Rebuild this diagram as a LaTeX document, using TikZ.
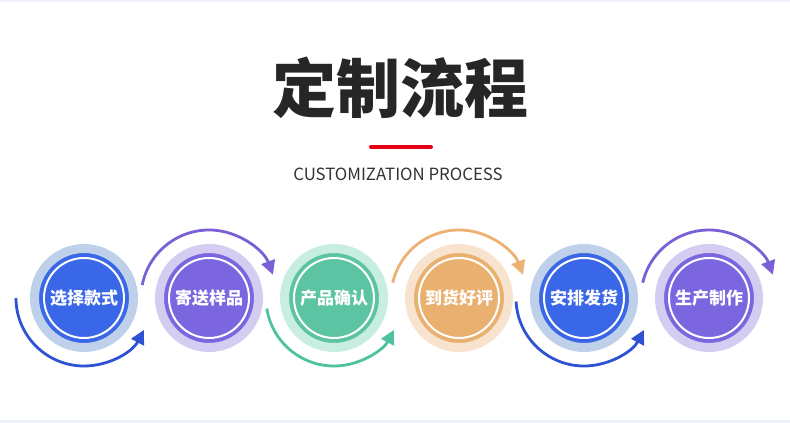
\documentclass[tikz,border=0pt]{standalone}
\usepackage{fontspec}
\newfontfamily\cjk{Noto Sans CJK SC}
\usetikzlibrary{arrows.meta}
\definecolor{band}{HTML}{EEF2F8}
\definecolor{titlec}{HTML}{262626}
\definecolor{redbar}{HTML}{E60012}
\definecolor{subc}{HTML}{333333}
\definecolor{blueIn}{HTML}{3A66E8}
\definecolor{blueOut}{HTML}{BED0EA}
\definecolor{blueArc}{HTML}{2F52D2}
\definecolor{purIn}{HTML}{7B66E0}
\definecolor{purOut}{HTML}{D5CCF2}
\definecolor{purArc}{HTML}{7A60D6}
\definecolor{grnIn}{HTML}{5CC3A3}
\definecolor{grnOut}{HTML}{C8EEE1}
\definecolor{grnArc}{HTML}{4EC29F}
\definecolor{orgIn}{HTML}{E9B06F}
\definecolor{orgOut}{HTML}{F8E3CF}
\definecolor{orgArc}{HTML}{EFB172}
\tikzset{
  stepcircle/.style={circle, minimum size=99pt, inner sep=0pt, line width=9pt,
    text=white, font=\cjk\bfseries\fontsize{17}{17}\selectfont},
  flowarc/.style={line width=2.8pt, -{Triangle[length=14pt,width=14pt]}},
  whitering/.style={draw=white, line width=2pt}
}
\begin{document}
\begin{tikzpicture}[x=1pt,y=1pt]
\useasboundingbox (0,0) rectangle (790,423);
\fill[white] (0,0) rectangle (790,423);
\fill[band] (0,421) rectangle (790,423);
\fill[band] (0,0) rectangle (790,3);
% title
\node (title) at (400,335) {\cjk\bfseries\color{titlec}\fontsize{64}{64}\selectfont 定制流程};
\draw[redbar, line width=4pt, line cap=round] (371,276) -- (431,276);
\node (sub) at (398,249) {\cjk\color{subc}\fontsize{16.8}{17}\selectfont CUSTOMIZATION PROCESS};
% circles
\node[stepcircle, fill=blueIn, draw=blueOut] (c1) at (84,125) {选择款式};
\node[stepcircle, fill=purIn, draw=purOut] (c2) at (209,125) {寄送样品};
\node[stepcircle, fill=grnIn, draw=grnOut] (c3) at (334,125) {产品确认};
\node[stepcircle, fill=orgIn, draw=orgOut] (c4) at (459,125) {到货好评};
\node[stepcircle, fill=blueIn, draw=blueOut] (c5) at (584,125) {安排发货};
\node[stepcircle, fill=purIn, draw=purOut] (c6) at (709,125) {生产制作};
\foreach \c in {c1,c2,c3,c4,c5,c6}{
  \draw[whitering] (\c.center) circle (40);
}
% arcs
\draw[flowarc, blueArc] ([shift={(180:68)}]c1.center) arc[start angle=180, end angle=332, radius=68];
\draw[flowarc, purArc] ([shift={(169:68)}]c2.center) arc[start angle=169, end angle=20, radius=68];
\draw[flowarc, grnArc] ([shift={(189:68)}]c3.center) arc[start angle=189, end angle=332, radius=68];
\draw[flowarc, orgArc] ([shift={(167:68)}]c4.center) arc[start angle=167, end angle=20, radius=68];
\draw[flowarc, blueArc] ([shift={(183:68)}]c5.center) arc[start angle=183, end angle=332, radius=68];
\draw[flowarc, purArc] ([shift={(167:68)}]c6.center) arc[start angle=167, end angle=20, radius=68];
\end{tikzpicture}
\end{document}
